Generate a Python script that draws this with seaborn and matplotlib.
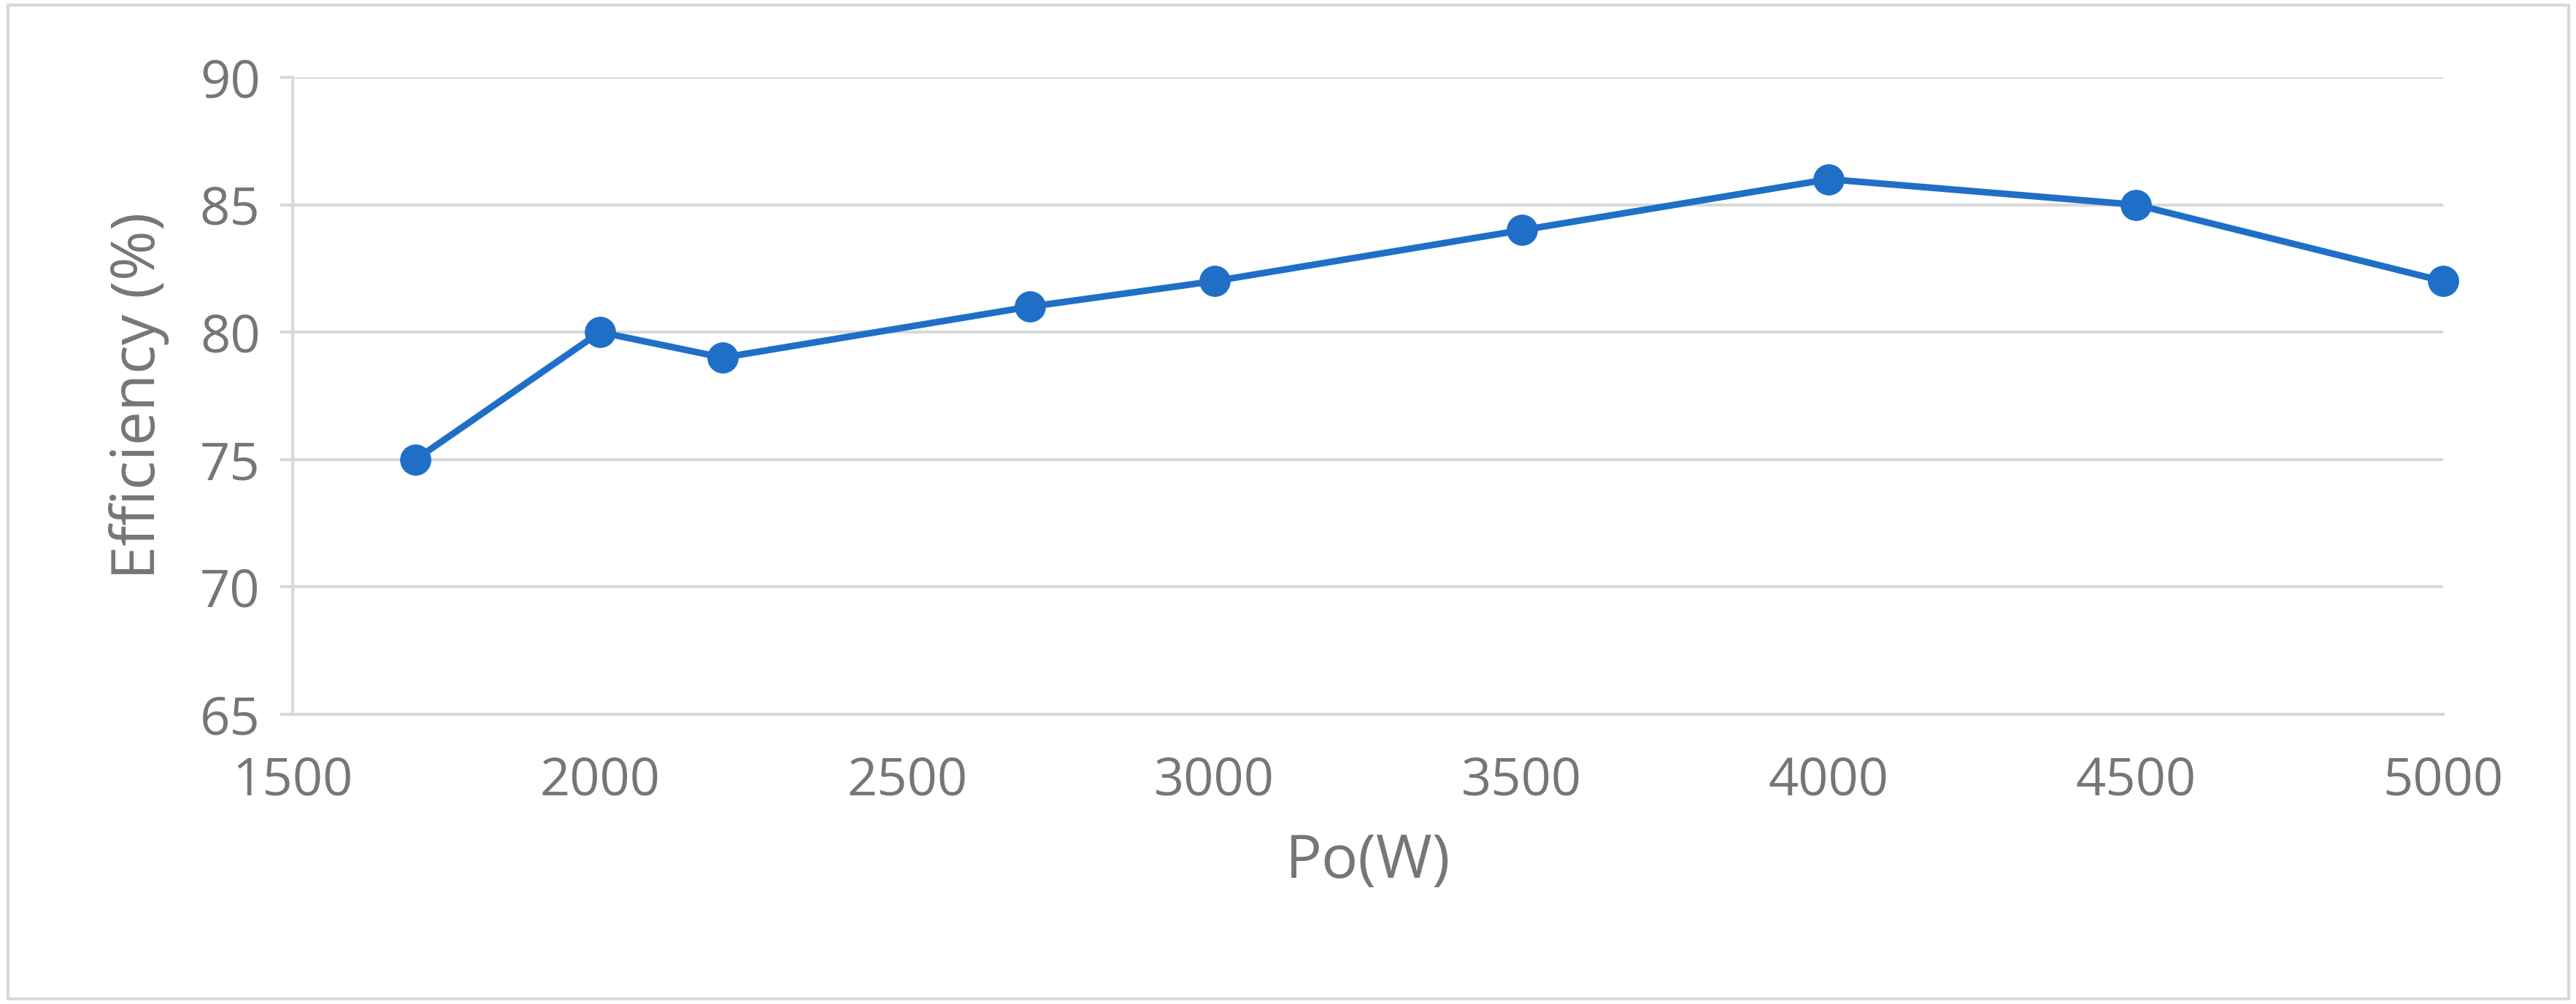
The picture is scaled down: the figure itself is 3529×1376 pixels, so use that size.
import matplotlib
matplotlib.use("Agg")
import matplotlib.pyplot as plt
import seaborn as sns
import pandas as pd

power = [1700, 2000, 2200, 2700, 3000, 3500, 4000, 4500, 5000]
efficiency = [75, 80, 79, 81, 82, 84, 86, 85, 82]
x_ticks = [1500, 2000, 2500, 3000, 3500, 4000, 4500, 5000]
y_ticks = [65, 70, 75, 80, 85, 90]

sns.set_theme(style="white")
plt.rcParams['font.family'] = ['Open Sans', 'DejaVu Sans']

df = pd.DataFrame({"Po": power, "Eff": efficiency})
fig = plt.figure(figsize=(35.3, 13.76), dpi=100)
ax = fig.add_axes([0.1136, 0.2885, 0.9482 - 0.1136, 0.923 - 0.2885])
sns.lineplot(data=df, x="Po", y="Eff", ax=ax, color="#1f6fc7", linewidth=6.5,
             marker="o", markersize=30, markeredgecolor="#1f6fc7", zorder=3)
for ln in ax.lines:
    ln.set_clip_on(False)
ax.set_xlim(1500, 5000)
ax.set_ylim(65, 90)
ax.set_xticks(x_ticks)
ax.set_yticks(y_ticks)
ax.yaxis.grid(True, color="#d9d9d9", linewidth=3)
ax.xaxis.grid(False)
for s in ["top", "right"]:
    ax.spines[s].set_visible(False)
for s in ["left", "bottom"]:
    ax.spines[s].set_color("#d9d9d9")
    ax.spines[s].set_linewidth(3)
ax.tick_params(axis="both", colors="#767676", labelsize=52, pad=20)
ax.tick_params(axis="y", length=12, width=3, color="#d9d9d9", left=True)
ax.tick_params(axis="x", length=0, pad=40)
ax.set_xlabel("Po(W)", fontsize=60, color="#767676", labelpad=25)
ax.set_ylabel("Efficiency (%)", fontsize=60, color="#767676", labelpad=30)

border = plt.Rectangle((0.003, 0.005), 0.994, 0.99, transform=fig.transFigure,
                       fill=False, edgecolor="#d9d9d9", linewidth=3)
fig.patches.append(border)
fig.savefig("out.png", dpi=100, facecolor="white")
